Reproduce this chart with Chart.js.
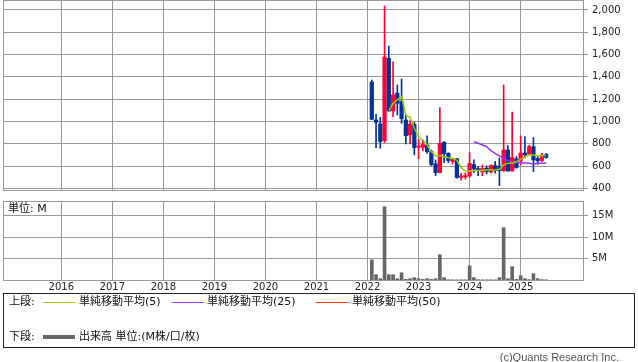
<!DOCTYPE html>
<html>
<head>
<meta charset="utf-8">
<script src="https://cdn.jsdelivr.net/npm/chart.js@4.4.1/dist/chart.umd.min.js"></script>
<style>
body{margin:0;width:638px;height:362px;background:#fff;position:relative;overflow:hidden;font-family:'DejaVu Sans','Noto Sans CJK JP',sans-serif;}
canvas{position:absolute;left:0;}
#price{top:0;}
#vol{top:196px;}
.lbl{position:absolute;font-size:11px;line-height:12px;color:#111;white-space:nowrap;}
.ln{position:absolute;height:0;border-top:1px solid;}
#legend{position:absolute;left:3px;top:293px;width:630px;height:53px;border:1px solid #222;}
#copy{position:absolute;right:19px;top:351px;font:11px 'Liberation Sans',sans-serif;color:#555;}
</style>
</head>
<body>
<canvas id="price" width="638" height="192"></canvas>
<canvas id="vol" width="638" height="100"></canvas>
<div class="lbl" style="left:8px;top:203px;">単位: M</div>
<div id="legend"></div>
<div class="lbl" style="left:9px;top:296px;">上段:</div>
<div class="ln" style="left:43px;top:302px;width:32px;border-color:#99cc00;"></div>
<div class="lbl" style="left:79px;top:296px;">単純移動平均(5)</div>
<div class="ln" style="left:172px;top:302px;width:32px;border-color:#9933ff;"></div>
<div class="lbl" style="left:207px;top:296px;">単純移動平均(25)</div>
<div class="ln" style="left:316px;top:302px;width:32px;border-color:#ff3300;"></div>
<div class="lbl" style="left:352px;top:296px;">単純移動平均(50)</div>
<div class="lbl" style="left:9px;top:331px;">下段:</div>
<div class="ln" style="left:43px;top:335px;width:32px;border-top:4px solid #666;"></div>
<div class="lbl" style="left:79px;top:331px;">出来高 単位:(M株/口/枚)</div>
<div id="copy">(c)Quants Research Inc.</div>
<script>
const years = [2016,2017,2018,2019,2020,2021,2022,2023,2024,2025];
const priceTicks = [400,600,800,1000,1200,1400,1600,1800,2000];
const volTicks = [5,10,15];

const months = ['2022-01','2022-02','2022-03','2022-04','2022-05','2022-06','2022-07','2022-08','2022-09','2022-10','2022-11','2022-12',
  '2023-01','2023-02','2023-03','2023-04','2023-05','2023-06','2023-07','2023-08','2023-09','2023-10','2023-11','2023-12',
  '2024-01','2024-02','2024-03','2024-04','2024-05','2024-06','2024-07','2024-08','2024-09','2024-10','2024-11','2024-12',
  '2025-01','2025-02','2025-03','2025-04','2025-05','2025-06'];
const opens  = [1354,1013,977,828,1566,1094,1253,1178,1013,879,974,768,768,789,729,619,541,813,714,640,664,499,502,511,613,577,547,580,547,604,598,556,744,556,664,646,717,708,774,667,649,705];
const highs  = [1372,1064,1037,2036,1677,1534,1327,1381,1058,1007,992,840,834,870,744,655,1124,819,720,670,670,535,538,720,655,595,610,601,610,643,672,1327,783,1085,684,870,864,786,855,684,714,714];
const lows   = [1015,765,759,810,1090,1043,1058,983,798,798,700,666,738,714,604,514,538,631,631,619,490,475,481,499,541,514,514,529,535,535,424,553,553,553,580,610,672,699,550,616,640,669];
const closes = [1019,992,819,1578,1094,1238,1163,1025,873,977,765,780,792,729,613,541,804,711,649,658,496,511,514,622,574,559,580,550,604,559,559,744,556,676,586,717,699,774,654,646,699,678];
const volumes = [4.7,1.24,0.31,17.1,1.24,1.24,0.31,1.7,0.15,0.3,0.55,0.3,0.15,0.3,0.15,0.3,5.9,0.55,0.08,0.05,0.05,0.05,0.05,3.3,0.55,0.08,0.05,0.05,0.05,0.05,0.55,12.2,0.3,3.1,0.15,1.0,0.3,0.08,1.47,0.3,0.08,0.05];
const ma5 = [null,null,null,null,1094,1163,1193,1223,1058,1037,939,864,834,789,729,693,693,684,675,669,650,585,555,552,559,559,559,565,565,565,571,610,625,625,640,660,684,699,699,693,693,699];
const ma25 = [null,null,null,null,null,null,null,null,null,null,null,null,null,null,null,null,null,null,null,null,null,null,null,null,
  819,804,789,774,738,714,690,669,648,634,631,631,628,625,616,625,625,625];

const RED = '#ff0033', BLUE = '#003399', GRID = '#999999';
const FONT = {family:"'DejaVu Sans', sans-serif", size:10};

// month label -> position at the end of that month
const xs = months.map(m => { const [y, mo] = m.split('-').map(Number); return y + mo/12; });
const colors = opens.map((o,i) => closes[i] >= o ? RED : BLUE);

const frame = {
    id:'frame',
    afterDraw(c){
        const a = c.chartArea, ctx = c.ctx;
        ctx.save();
        ctx.strokeStyle = GRID; ctx.lineWidth = 1;
        ctx.strokeRect(a.left+0.5, a.top+0.5, a.right-a.left, a.bottom-a.top);
        ctx.restore();
    }
};

function noPad(s){
    s.paddingTop = 0; s.paddingBottom = 0; s.paddingLeft = 0; s.paddingRight = 0;
}

function xScale(showLabels, h){
    return {
        type:'linear', min:2014.858, max:2026.221, offset:false,
        afterBuildTicks: s => { s.ticks = years.map(v => ({value:v})); },
        afterFit: s => { s.height = h; noPad(s); },
        grid:{color:GRID, drawTicks:false, offset:false},
        border:{color:GRID},
        ticks:{display:showLabels, padding:1, color:'#222', font:FONT, maxRotation:0, autoSkip:false, callback: v => String(v)}
    };
}

function yScale(min, max, ticks, fmt){
    return {
        position:'right', min:min, max:max,
        afterBuildTicks: s => { s.ticks = ticks.map(v => ({value:v})); },
        afterFit: s => { s.width = 55; noPad(s); },
        grid:{color:GRID, tickLength:5},
        border:{color:GRID},
        ticks:{padding:4, color:'#222', font:FONT, callback:fmt}
    };
}

const common = {
    responsive:false, animation:false,
    plugins:{legend:{display:false}, tooltip:{enabled:false}}
};

new Chart(document.getElementById('price').getContext('2d'), {
    type:'bar',
    data:{ datasets:[
        { type:'line', data: ma5.map((v,i) => ({x:xs[i], y:v})), borderColor:'#99cc00', borderWidth:1.5, pointRadius:0, order:0 },
        { type:'line', data: ma25.map((v,i) => ({x:xs[i], y:v})), borderColor:'#9933ff', borderWidth:1.5, pointRadius:0, order:0 },
        { data: opens.map((o,i) => ({x:xs[i], y:[o, closes[i]]})), backgroundColor:colors, barThickness:3.6, grouped:false, order:1 },
        { data: lows.map((l,i) => ({x:xs[i], y:[l, highs[i]]})), backgroundColor:colors, barThickness:1, grouped:false, order:2 }
    ]},
    options:{ ...common,
        layout:{padding:{left:3, top:0, right:0, bottom:0}},
        scales:{ x:xScale(false, 2), y:yScale(384.7, 2089.7, priceTicks, v => v.toLocaleString('en-US')) }
    },
    plugins:[frame]
});

new Chart(document.getElementById('vol').getContext('2d'), {
    type:'bar',
    data:{ datasets:[
        { data: volumes.map((v,i) => ({x:xs[i], y:v})), backgroundColor:'#666666', barThickness:3, grouped:false }
    ]},
    options:{ ...common,
        layout:{padding:{left:3, top:5, right:0, bottom:0}},
        scales:{ x:xScale(true, 16), y:yScale(0, 18.43, volTicks, v => v + 'M') }
    },
    plugins:[frame]
});
</script>
</body>
</html>
